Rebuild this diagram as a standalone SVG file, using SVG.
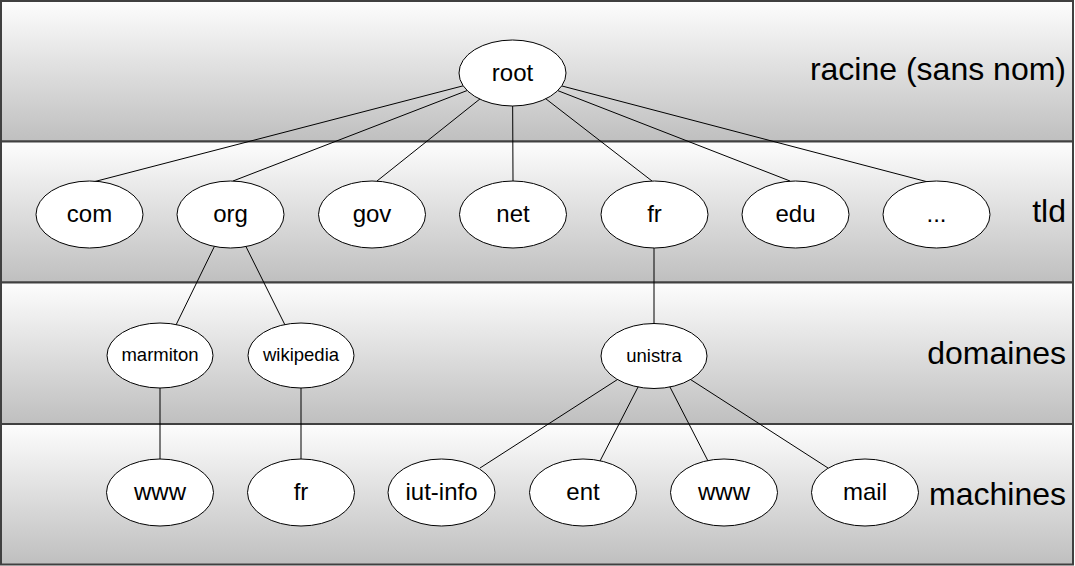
<svg xmlns="http://www.w3.org/2000/svg" width="1075" height="566" viewBox="0 0 1075 566">
<defs>
<linearGradient id="band" x1="0" y1="0" x2="0" y2="1">
<stop offset="0" stop-color="#fdfdfd"/>
<stop offset="1" stop-color="#bfbfbf"/>
</linearGradient>
<style>
.band{fill:url(#band);stroke:#404040;stroke-width:2}
.node ellipse{fill:#ffffff;stroke:#000000;stroke-width:1}
.node text{font-family:"Liberation Sans",Arial,sans-serif;font-size:24px;fill:#000;text-anchor:middle}
.node.small text{font-size:18.5px}
.lbl{font-family:"Liberation Sans",Arial,sans-serif;font-size:32px;fill:#000;text-anchor:end}
#connectors line{stroke:#000;stroke-width:1}
</style>
</defs>
<rect x="0" y="0" width="1075" height="566" fill="#ffffff"/>
<g id="bands">
<rect class="band" x="1" y="1" width="1072" height="140.5"/>
<rect class="band" x="1" y="141.5" width="1072" height="141"/>
<rect class="band" x="1" y="282.5" width="1072" height="141.5"/>
<rect class="band" x="1" y="424" width="1072" height="140.5"/>
</g>
<g id="layer-labels">
<text class="lbl" x="1066" y="80">racine (sans nom)</text>
<text class="lbl" x="1066" y="222">tld</text>
<text class="lbl" x="1066" y="364">domaines</text>
<text class="lbl" x="1066" y="505">machines</text>
</g>
<g id="connectors">
<line x1="512.5" y1="73" x2="93" y2="182"/>
<line x1="512.5" y1="73" x2="233" y2="181"/>
<line x1="512.5" y1="73" x2="377" y2="181"/>
<line x1="512.5" y1="73" x2="513" y2="181"/>
<line x1="512.5" y1="73" x2="652" y2="181"/>
<line x1="512.5" y1="73" x2="790" y2="181"/>
<line x1="512.5" y1="73" x2="928" y2="182"/>
<line x1="230" y1="214.5" x2="176" y2="325"/>
<line x1="230" y1="214.5" x2="285" y2="325"/>
<line x1="654" y1="214.5" x2="654" y2="356"/>
<line x1="160" y1="355.5" x2="160" y2="492"/>
<line x1="301" y1="355.5" x2="301" y2="492"/>
<line x1="654" y1="356" x2="480" y2="468"/>
<line x1="654" y1="356" x2="600" y2="461"/>
<line x1="654" y1="356" x2="708" y2="461"/>
<line x1="654" y1="356" x2="828" y2="468"/>
</g>
<g id="n-root" class="node"><ellipse cx="512.5" cy="73" rx="53.5" ry="33"/><text x="512.5" y="81">root</text></g>
<g id="n-com" class="node"><ellipse cx="89.5" cy="214.5" rx="53.5" ry="33.5"/><text x="89.5" y="222">com</text></g>
<g id="n-org" class="node"><ellipse cx="230.5" cy="214.5" rx="53.5" ry="33.5"/><text x="230.5" y="222">org</text></g>
<g id="n-gov" class="node"><ellipse cx="372" cy="214.5" rx="53.5" ry="33.5"/><text x="372" y="222">gov</text></g>
<g id="n-net" class="node"><ellipse cx="513" cy="214.5" rx="53.5" ry="33.5"/><text x="513" y="222">net</text></g>
<g id="n-fr" class="node"><ellipse cx="654.5" cy="214.5" rx="53.5" ry="33.5"/><text x="654.5" y="222">fr</text></g>
<g id="n-edu" class="node"><ellipse cx="795.5" cy="214.5" rx="53.5" ry="33.5"/><text x="795.5" y="222">edu</text></g>
<g id="n-etc" class="node"><ellipse cx="936.5" cy="214.5" rx="53.5" ry="33.5"/><text x="936.5" y="222">...</text></g>
<g id="n-marmiton" class="node small"><ellipse cx="160" cy="355.5" rx="53" ry="32.5"/><text x="160" y="361">marmiton</text></g>
<g id="n-wikipedia" class="node small"><ellipse cx="301" cy="355.5" rx="53" ry="32.5"/><text x="301" y="361">wikipedia</text></g>
<g id="n-unistra" class="node small"><ellipse cx="654" cy="356" rx="53" ry="32.5"/><text x="654" y="361.5">unistra</text></g>
<g id="n-www1" class="node"><ellipse cx="160" cy="492.5" rx="53.5" ry="33.5"/><text x="160" y="500">www</text></g>
<g id="n-fr2" class="node"><ellipse cx="301" cy="492.5" rx="53.5" ry="33.5"/><text x="301" y="500">fr</text></g>
<g id="n-iutinfo" class="node"><ellipse cx="441.5" cy="492.5" rx="53.5" ry="33.5"/><text x="441.5" y="500">iut-info</text></g>
<g id="n-ent" class="node"><ellipse cx="583" cy="492.5" rx="53.5" ry="33.5"/><text x="583" y="500">ent</text></g>
<g id="n-www2" class="node"><ellipse cx="724" cy="492.5" rx="53.5" ry="33.5"/><text x="724" y="500">www</text></g>
<g id="n-mail" class="node"><ellipse cx="865" cy="492.5" rx="53.5" ry="33.5"/><text x="865" y="500">mail</text></g>
</svg>
